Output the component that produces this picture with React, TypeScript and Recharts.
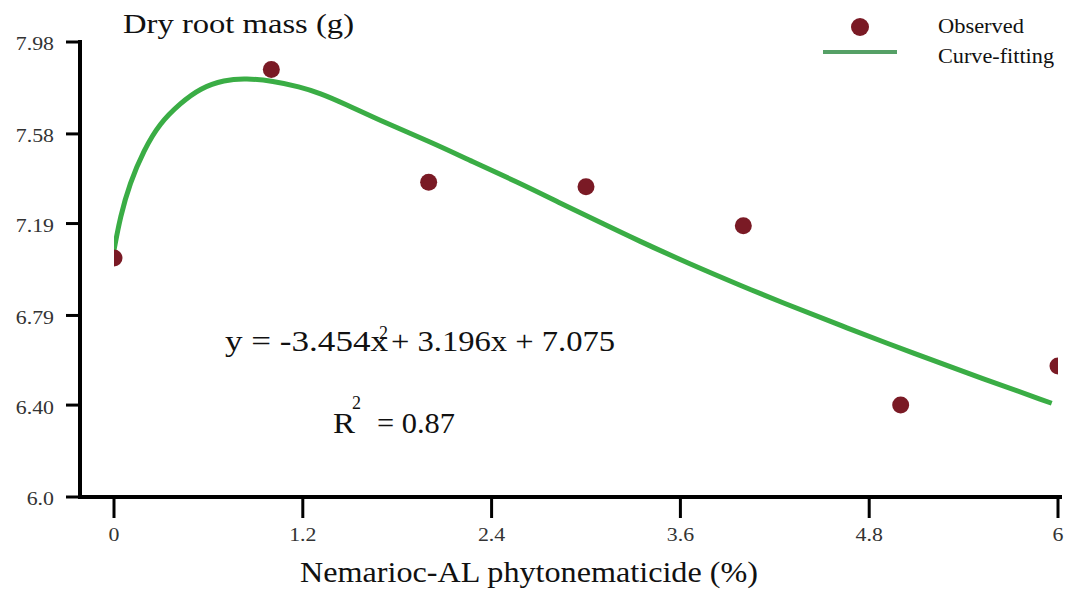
import React from 'react';
import { ComposedChart, Line, Scatter, XAxis, YAxis, Customized } from 'recharts';

// observed dry root mass at each concentration
const doses = [0, 1, 2, 3, 4, 5, 6];
const observedMass = [7.04, 7.86, 7.37, 7.35, 7.18, 6.4, 6.57];

// fitted curve
const fitX = [0, 0.04, 0.1, 0.19, 0.29, 0.42, 0.55, 0.7, 0.84, 1.01, 1.18, 1.31, 1.46, 1.73, 2.01, 2.28, 2.56, 2.84, 3.03, 3.34, 3.66, 3.98, 4.23, 4.66, 5.08, 5.51, 5.96];
const fitY = [7.075, 7.22, 7.365, 7.51, 7.626, 7.713, 7.78, 7.815, 7.822, 7.81, 7.785, 7.757, 7.713, 7.626, 7.546, 7.459, 7.372, 7.278, 7.215, 7.113, 7.014, 6.921, 6.851, 6.735, 6.626, 6.518, 6.408];

const xTicks = [0, 1.2, 2.4, 3.6, 4.8, 6];
const yTicks = [6.0, 6.4, 6.79, 7.19, 7.58, 7.98];
const yTickLabels = ['6.0', '6.40', '6.79', '7.19', '7.58', '7.98'];

const observed = doses.map((x, i) => ({ x, y: observedMass[i] }));
const fitted = fitX.map((x, i) => ({ x, fit: fitY[i] }));

const FONT = "'Liberation Serif', 'Times New Roman', serif";
const DOT = '#7a1a25';
const GREEN = '#3aad45';
const serif = { fontFamily: FONT };

const YTick = (props: any) => {
  const { x, y, payload } = props;
  const label = yTickLabels[yTicks.indexOf(payload.value)] ?? String(payload.value);
  return (
    <text
      transform={`translate(${x},${y + 2}) scale(1.15,1)`}
      textAnchor="end"
      dominantBaseline="central"
      style={serif}
      fontSize={19}
      fill="#333"
    >
      {label}
    </text>
  );
};

const XTick = (props: any) => {
  const { x, y, payload } = props;
  return (
    <text
      transform={`translate(${x},${y}) scale(1.15,1)`}
      textAnchor="middle"
      dy="0.71em"
      style={serif}
      fontSize={19}
      fill="#333"
    >
      {payload.value}
    </text>
  );
};

const Annotations = () => (
  <g style={serif} fill="#111">
    <text x={123} y={33} style={serif} fontSize={27} textLength={231} lengthAdjust="spacingAndGlyphs">
      Dry root mass (g)
    </text>

    {/* legend */}
    <circle cx={860} cy={27} r={9} fill={DOT} />
    <line x1={823} y1={52} x2={897} y2={52} stroke="#55a066" strokeWidth={4} />
    <text x={938} y={33} style={serif} fontSize={21} textLength={86} lengthAdjust="spacingAndGlyphs">
      Observed
    </text>
    <text x={938} y={63} style={serif} fontSize={21} textLength={116} lengthAdjust="spacingAndGlyphs">
      Curve-fitting
    </text>

    {/* equation */}
    <text x={225} y={351} style={serif} fontSize={30} textLength={163} lengthAdjust="spacingAndGlyphs">
      y = -3.454x
    </text>
    <text x={379} y={339} style={serif} fontSize={18}>2</text>
    <text x={391} y={351} style={serif} fontSize={30} textLength={224} lengthAdjust="spacingAndGlyphs">
      + 3.196x + 7.075
    </text>
    <text x={333} y={433} style={serif} fontSize={30} textLength={22} lengthAdjust="spacingAndGlyphs">
      R
    </text>
    <text x={352} y={409} style={serif} fontSize={18}>2</text>
    <text x={377} y={433} style={serif} fontSize={30} textLength={78} lengthAdjust="spacingAndGlyphs">
      = 0.87
    </text>

    <text x={300} y={582} style={serif} fontSize={29} textLength={458} lengthAdjust="spacingAndGlyphs">
      Nemarioc-AL phytonematicide (%)
    </text>
  </g>
);

export default function App() {
  return (
    <div style={{ width: 1069, height: 592, background: '#fff' }}>
      <style>{'body{margin:0;background:#fff}'}</style>
      <ComposedChart
        width={1069}
        height={592}
        margin={{ top: 42, right: 9, bottom: 65, left: 20 }}
      >
        <XAxis
          type="number"
          dataKey="x"
          domain={[0, 6]}
          ticks={xTicks}
          allowDataOverflow
          padding={{ left: 34, right: 2 }}
          height={30}
          tickSize={21}
          tickMargin={10}
          axisLine={{ stroke: '#000', strokeWidth: 4, strokeLinecap: 'square' }}
          tickLine={{ stroke: '#000', strokeWidth: 3 }}
          tick={<XTick />}
          interval={0}
        />
        <YAxis
          type="number"
          domain={[6, 7.98]}
          ticks={yTicks}
          allowDataOverflow
          width={60}
          tickSize={14}
          tickMargin={12}
          axisLine={{ stroke: '#000', strokeWidth: 4, strokeLinecap: 'square' }}
          tickLine={{ stroke: '#000', strokeWidth: 3 }}
          tick={<YTick />}
          interval={0}
        />
        <Line
          data={fitted}
          dataKey="fit"
          type="basis"
          stroke={GREEN}
          strokeWidth={5}
          dot={false}
          activeDot={false}
          isAnimationActive={false}
        />
        <Scatter
          data={observed}
          dataKey="y"
          fill={DOT}
          isAnimationActive={false}
          shape={(p: any) => <circle cx={p.cx} cy={p.cy} r={8.5} fill={DOT} />}
        />
        <Customized component={Annotations} />
      </ComposedChart>
    </div>
  );
}
